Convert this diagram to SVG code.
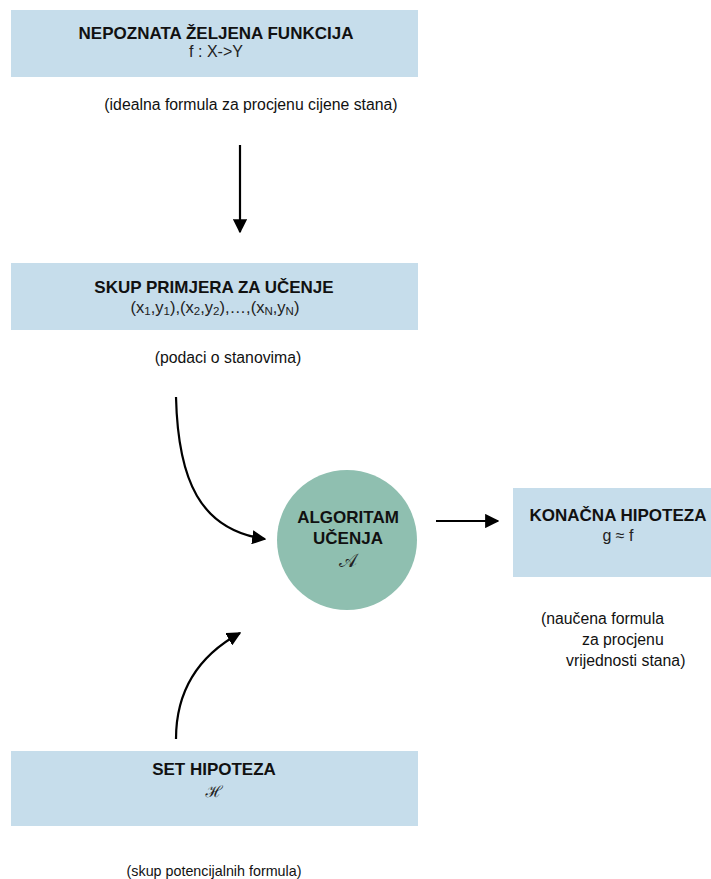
<svg xmlns="http://www.w3.org/2000/svg" width="711" height="879" viewBox="0 0 711 879">
<style>
.box{fill:#c6ddeb;}
.circ{fill:#8fbfb0;}
.t{font-family:"Liberation Sans",Arial,sans-serif;font-size:17px;font-weight:bold;fill:#111;text-anchor:middle;}
.s{font-family:"Liberation Sans",Arial,sans-serif;font-size:16px;fill:#222;text-anchor:middle;}
.n{font-family:"Liberation Sans",Arial,sans-serif;font-size:15.8px;fill:#111;}
.n2{font-family:"Liberation Sans",Arial,sans-serif;font-size:14.3px;fill:#111;}
.m{font-family:"DejaVu Serif","Noto Sans",serif;font-size:19px;fill:#222;text-anchor:middle;}
.m2{font-family:"DejaVu Serif","Noto Sans",serif;font-size:16px;fill:#222;text-anchor:middle;}
.c{fill:none;stroke:#000;stroke-width:2.2;}
</style>
<defs>
<marker id="ah" viewBox="0 0 10 10" refX="9" refY="5" markerWidth="6.5" markerHeight="6.5" markerUnits="strokeWidth" orient="auto">
<path d="M0,0 L10,5 L0,10 z" fill="#000"/>
</marker>
</defs>
<rect width="711" height="879" fill="#fff"/>
<g id="node-funkcija">
<rect class="box" x="11" y="10" width="407" height="67"/>
<text class="t" x="216" y="39">NEPOZNATA ŽELJENA FUNKCIJA</text>
<text class="s" x="216" y="57">f : X-&gt;Y</text>
<text class="n" x="251" y="110" text-anchor="middle">(idealna formula za procjenu cijene stana)</text>
</g>
<g id="node-primjeri">
<rect class="box" x="11" y="263" width="407" height="67"/>
<text class="t" x="214" y="293">SKUP PRIMJERA ZA UČENJE</text>
<text class="s" x="215" y="313" style="font-size:16.5px">(x<tspan font-size="11.5" dy="2">1</tspan><tspan dy="-2">,y</tspan><tspan font-size="11.5" dy="2">1</tspan><tspan dy="-2">),(x</tspan><tspan font-size="11.5" dy="2">2</tspan><tspan dy="-2">,y</tspan><tspan font-size="11.5" dy="2">2</tspan><tspan dy="-2">),…,(x</tspan><tspan font-size="11.5" dy="2">N</tspan><tspan dy="-2">,y</tspan><tspan font-size="11.5" dy="2">N</tspan><tspan dy="-2">)</tspan></text>
<text class="n" x="228" y="363" text-anchor="middle">(podaci o stanovima)</text>
</g>
<g id="node-algoritam">
<circle class="circ" cx="347" cy="540" r="70"/>
<text class="t" x="348" y="523">ALGORITAM</text>
<text class="t" x="348" y="544">UČENJA</text>
<text class="m" x="348" y="567">𝒜</text>
</g>
<g id="node-konacna">
<rect class="box" x="513" y="488" width="198" height="89"/>
<text class="t" x="618" y="521">KONAČNA HIPOTEZA</text>
<text class="s" x="618" y="541">g ≈ f</text>
<text class="n" x="541" y="624">(naučena formula</text>
<text class="n" x="582" y="645">za procjenu</text>
<text class="n" x="566" y="666">vrijednosti stana)</text>
</g>
<g id="node-set">
<rect class="box" x="11" y="751" width="407" height="75"/>
<text class="t" x="214" y="775">SET HIPOTEZA</text>
<text class="m2" x="214" y="797">ℋ</text>
<text class="n2" x="214" y="876" text-anchor="middle">(skup potencijalnih formula)</text>
</g>
<g id="connectors">
<path class="c" d="M240,145 L240,232" marker-end="url(#ah)"/>
<path class="c" d="M176,397 C178,480 200,530 265,539" marker-end="url(#ah)"/>
<path class="c" d="M176,739 C176,690 200,655 240,633" marker-end="url(#ah)"/>
<path class="c" d="M436,521 L498,521" marker-end="url(#ah)"/>
</g>
</svg>
